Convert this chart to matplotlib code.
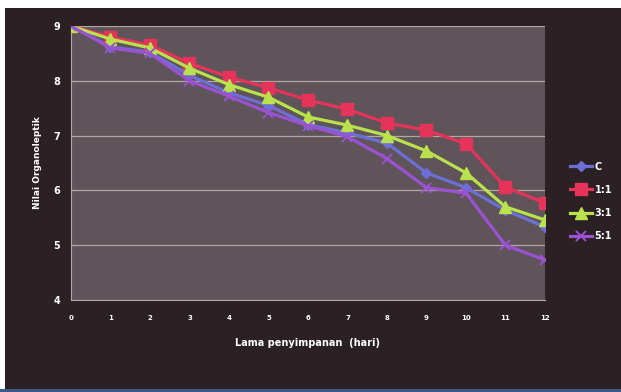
import matplotlib.pyplot as plt
from matplotlib.patches import Rectangle

hari = [0, 1, 2, 3, 4, 5, 6, 7, 8, 9, 10, 11, 12]
nilai_c = [9.0, 8.62, 8.52, 8.10, 7.78, 7.55, 7.20, 7.05, 6.86, 6.32, 6.05, 5.64, 5.33]
nilai_11 = [9.0, 8.80, 8.65, 8.32, 8.07, 7.87, 7.65, 7.48, 7.23, 7.10, 6.85, 6.06, 5.77]
nilai_31 = [9.0, 8.76, 8.60, 8.23, 7.93, 7.70, 7.34, 7.19, 7.00, 6.72, 6.32, 5.70, 5.46]
nilai_51 = [9.0, 8.60, 8.50, 8.00, 7.72, 7.42, 7.18, 6.98, 6.58, 6.05, 5.95, 5.00, 4.73]

bg = '#2b2024'
panel = '#5f5459'
grid = '#b3a6a4'

fig = plt.figure(figsize=(6.21, 3.92), dpi=100, facecolor='white')
# dark frame of the chart, with the blue strip at the very bottom
fig.patches.append(Rectangle((5/621, 2/392), 616/621, 382/392,
                             transform=fig.transFigure, facecolor=bg,
                             edgecolor='none', zorder=-10))
fig.patches.append(Rectangle((0, 0), 1, 3/392, transform=fig.transFigure,
                             facecolor='#3a5a8a', edgecolor='none', zorder=-10))

ax = fig.add_axes([71/621, 1 - 300/392, 474/621, 274/392])
ax.set_facecolor(panel)

ax.plot(hari, nilai_c, color='#6c70d6', lw=2.3, marker='D', ms=5.5,
        label='C', zorder=3)
ax.plot(hari, nilai_11, color='#e6335a', lw=2.3, marker='s', ms=8,
        label='1:1', zorder=3)
ax.plot(hari, nilai_31, color='#b9e24c', lw=2.3, marker='^', ms=8,
        label='3:1', zorder=4)
ax.plot(hari, nilai_51, color='#9a52d2', lw=2.3, marker='x', ms=6.5, mew=1.4,
        label='5:1', zorder=5)

ax.set_xlim(0, 12)
ax.set_ylim(4, 9)
ax.set_xticks(hari)
ax.set_yticks([4, 5, 6, 7, 8, 9])
ax.yaxis.grid(True, color=grid, lw=0.9)
ax.set_axisbelow(True)
ax.tick_params(length=0)
ax.tick_params(axis='x', labelsize=5, labelcolor='white', pad=11)
ax.tick_params(axis='y', labelsize=7, labelcolor='white', pad=8)
for t in ax.get_xticklabels() + ax.get_yticklabels():
    t.set_fontweight('bold')

for s in ['top', 'right']:
    ax.spines[s].set_visible(False)
ax.spines['left'].set_color(grid)
ax.spines['bottom'].set_color(grid)

ax.set_xlabel('Lama penyimpanan  (hari)', color='white', fontsize=7,
              fontweight='bold', labelpad=12)
ax.set_ylabel('Nilai Organoleptik', color='white', fontsize=6.5,
              fontweight='bold', labelpad=8)

leg = ax.legend(loc='center left', bbox_to_anchor=(1.035, 0.36), frameon=False,
                fontsize=7, labelcolor='white', handlelength=2.2,
                labelspacing=1.35, handletextpad=0.3)
for t in leg.get_texts():
    t.set_fontweight('bold')

fig.savefig('out.png', dpi=100, facecolor=fig.get_facecolor())
